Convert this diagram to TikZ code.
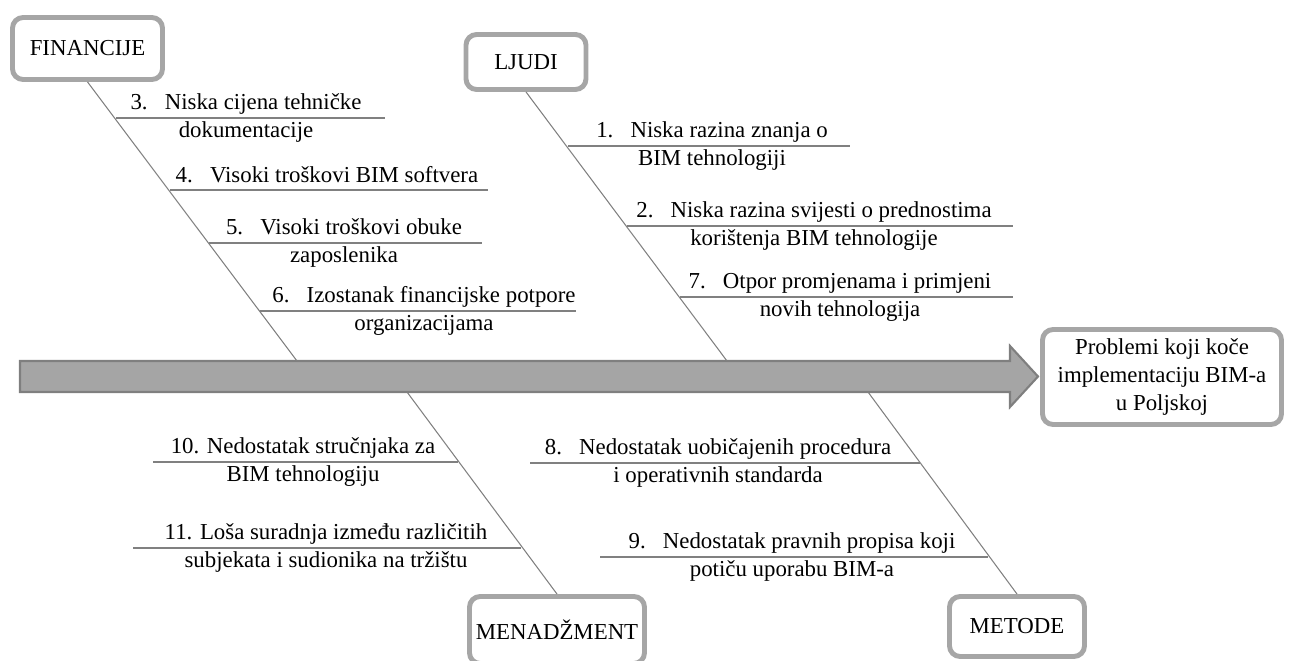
\documentclass[tikz,border=0pt]{standalone}
\usepackage{fontspec}
\setmainfont{Liberation Serif}

\definecolor{boxgray}{HTML}{A6A6A6}
\definecolor{linegray}{HTML}{808080}
\definecolor{spinegray}{HTML}{A5A5A5}
\definecolor{spineedge}{HTML}{7F7F7F}

\newcommand{\tocka}[1]{#1.\hspace{0.75em}}

\tikzset{
	kat/.style={draw=boxgray, line width=2.8pt, rounded corners=6pt, fill=white, align=center, inner sep=2pt},
	kost/.style={draw=linegray, line width=0.6pt},
	grana/.style={draw=linegray, line width=0.6pt},
	opis/.style={align=center, inner sep=0pt},
}

\begin{document}
\begin{tikzpicture}[x=0.02cm, y=-0.02cm, font=\fontsize{13}{15.9}\selectfont]
	\useasboundingbox (0,0) rectangle (1289,661);

	% glavna strelica
	\draw[fill=spinegray, draw=spineedge, line width=1.2pt] (20,361) -- (1010,361) -- (1010,346) -- (1038,376.5) -- (1010,407) -- (1010,392) -- (20,392) -- cycle;
	\node[kat, minimum width=4.78cm, minimum height=1.9cm] (cilj) at (1162,377) {Problemi koji koče\\implementaciju BIM-a\\u Poljskoj};

	% kategorije
	\node[kat, minimum width=3cm, minimum height=1.24cm] (fin) at (87.5,48.5) {FINANCIJE};
	\node[kat, minimum width=2.4cm, minimum height=1.1cm] (ljudi) at (526,62) {LJUDI};
	\node[kat, minimum width=3.5cm, minimum height=1.34cm] (men) at (557,630) {MENADŽMENT};
	\node[kat, minimum width=2.7cm, minimum height=1.2cm] (met) at (1017,626.5) {METODE};

	% kosti
	\coordinate (finkraj) at (297,361);
	\coordinate (ljudikraj) at (727,361);
	\coordinate (menkraj) at (407,392);
	\coordinate (metkraj) at (868,392);
	\draw[kost] (fin.south) -- (finkraj);
	\draw[kost] (ljudi.south) -- (ljudikraj);
	\draw[kost] (menkraj) -- (men.north);
	\draw[kost] (metkraj) -- (met.north);

	% grane
	\foreach \n/\xa/\xb/\y in {3/116/385/118, 4/170/488/190, 5/209/482/243, 6/260/576/311,
		1/568/850/146, 2/627/1013/226, 7/680/1013/297,
		10/153/458/462, 11/133/521/548, 8/530/920/463, 9/600/988/557} {
		\coordinate (a\n) at (\xa,\y);
		\coordinate (b\n) at (\xb,\y);
		\draw[grana] (a\n) -- (b\n);
	}

	% opisi
	\node[opis] (t3) at (246,118) {\tocka{3}Niska cijena tehničke\\dokumentacije};
	\node[opis, anchor=base] (t4) at (327,183) {\tocka{4}Visoki troškovi BIM softvera};
	\node[opis] (t5) at (344,243) {\tocka{5}Visoki troškovi obuke\\zaposlenika};
	\node[opis] (t6) at (424,311) {\tocka{6}Izostanak financijske potpore\\organizacijama};
	\node[opis] (t1) at (712,146) {\tocka{1}Niska razina znanja o\\BIM tehnologiji};
	\node[opis] (t2) at (814,226) {\tocka{2}Niska razina svijesti o prednostima\\korištenja BIM tehnologije};
	\node[opis] (t7) at (840,297) {\tocka{7}Otpor promjenama i primjeni\\novih tehnologija};
	\node[opis] (t10) at (303,462) {10. Nedostatak stručnjaka za\\BIM tehnologiju};
	\node[opis] (t11) at (326,548) {11. Loša suradnja između različitih\\subjekata i sudionika na tržištu};
	\node[opis] (t8) at (718,463) {\tocka{8}Nedostatak uobičajenih procedura\\i operativnih standarda};
	\node[opis] (t9) at (792,557) {\tocka{9}Nedostatak pravnih propisa koji\\potiču uporabu BIM-a};

\end{tikzpicture}
\end{document}
